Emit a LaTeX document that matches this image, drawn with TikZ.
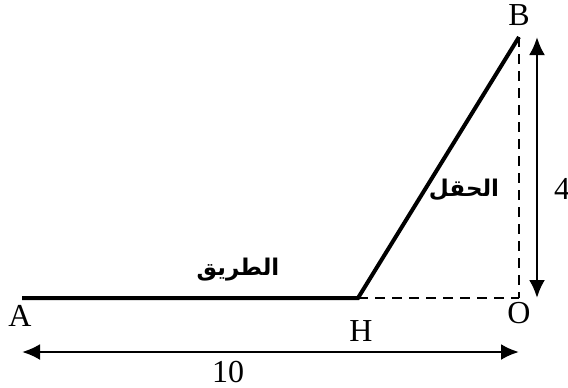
\documentclass[tikz,border=0pt]{standalone}
\usepackage{fontspec}
\setmainfont{Liberation Serif}
\newfontfamily\arabicfont[Script=Arabic]{DejaVu Sans}
\TeXXeTstate=1
\usetikzlibrary{arrows.meta}
\tikzset{
  seg/.style={line width=2pt},
  dimline/.style={line width=1.3pt, {Latex[length=9pt,width=8pt]}-{Latex[length=9pt,width=8pt]}},
  helper/.style={line width=0.9pt, dash pattern=on 5pt off 3.5pt},
  lbl/.style={font=\fontsize{16}{18}\selectfont, inner sep=0pt},
  arlbl/.style={font=\arabicfont\bfseries\fontsize{11.5}{13}\selectfont, inner sep=0pt}
}

\begin{document}
\begin{tikzpicture}[x=0.5pt, y=-0.5pt]
  \useasboundingbox (0,0) rectangle (568,387);
  % points of the figure
  \coordinate (A) at (22,298);
  \coordinate (H) at (358,298);
  \coordinate (O) at (519,298);
  \coordinate (B) at (519,37);
  \coordinate (top) at (537,37);
  \coordinate (bot) at (537,298);
  \coordinate (left) at (22,352);
  \coordinate (right) at (519,352);
  % road and field
  \draw[seg] (A) -- (H) -- (B);
  \draw[helper] (H) -- (O);
  \draw[helper] (B) -- (O);
  % dimensions
  \draw[dimline] (top) -- (bot);
  \draw[dimline] (left) -- (right);
  % labels
  \node[lbl] (labA) at (20,316) {A};
  \node[lbl] (labH) at (361,331) {H};
  \node[lbl] (labO) at (519,313) {O};
  \node[lbl] (labB) at (519,15) {B};
  \node[lbl] (len4) at (562,189) {4};
  \node[lbl] (len10) at (228,372) {10};
  \node[arlbl] (road) at (238,270) {\beginR الطريق\endR};
  \node[arlbl] (field) at (464,190) {\beginR الحقل\endR};
\end{tikzpicture}
\end{document}
